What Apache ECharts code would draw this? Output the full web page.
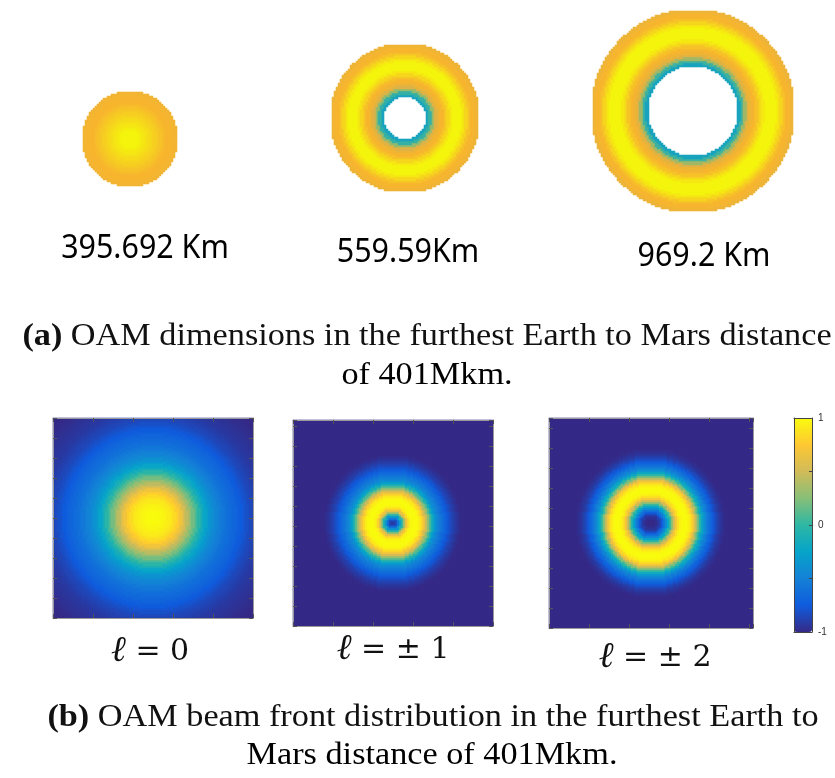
<!DOCTYPE html>
<html><head><meta charset="utf-8">
<script src="https://cdn.jsdelivr.net/npm/echarts@6/dist/echarts.min.js"></script>
<style>html,body{margin:0;padding:0;background:#fff}#c{width:835px;height:778px}</style>
</head><body><div id="c"></div>
<script>
// ---------------- DATA ----------------
const spotLabels = ['395.692 Km', '559.59Km', '969.2 Km'];
const beamSymbol = 'ℓ';
const beamLabels = [' = 0', ' = ± 1', ' = ± 2'];
const colorbarTicks = [-1, 0, 1];
const captionA = ['(a)', 'OAM dimensions in the furthest Earth to Mars distance', 'of 401Mkm.'];
const captionB = ['(b)', 'OAM beam front distribution in the furthest Earth to', 'Mars distance of 401Mkm.'];

// radial profiles (value per ring, centre outward); null = empty hole
// top row, normalised intensity 0..1
const spot395 = [1, 1, 1, 0.98, 0.96, 0.94, 0.92, 0.9, 0.88, 0.86, 0.84, 0.82, 0.8, 0.8, 0.79, 0.77];
const spot559 = [null, null, null, null, null, null, null, 0.04, 0.22, 0.45, 0.65, 0.76, 0.8, 0.84, 0.9, 0.96, 1, 1, 1, 0.96, 0.9, 0.84, 0.8, 0.79, 0.75];
const spot969 = [null, null, null, null, null, null, null, null, null, null, null, null, null, null, null,
  0.04, 0.24, 0.48, 0.66, 0.76, 0.8, 0.84, 0.9, 0.96, 1, 1, 1, 1, 0.96, 0.9, 0.84, 0.8, 0.79, 0.74];
// bottom row, colour scale -1..1
const beamL0 = [1, 1, 0.99, 0.97, 0.95, 0.92, 0.89, 0.84, 0.77, 0.67, 0.55, 0.44, 0.32, 0.2, 0.09, -0.02,
  -0.13, -0.23, -0.31, -0.37, -0.43, -0.48, -0.52, -0.56, -0.6, -0.63, -0.66, -0.69, -0.72, -0.75, -0.78,
  -0.81, -0.84, -0.86, -0.88, -0.9, -0.92, -0.93, -0.94, -0.95, -0.96, -0.97, -0.98, -0.99, -1];
const beamL1 = [-0.95, -0.85, -0.6, -0.35, -0.05, 0.3, 0.62, 0.82, 0.94, 0.99, 1, 1, 0.98, 0.92, 0.82, 0.68,
  0.5, 0.3, 0.1, -0.1, -0.27, -0.4, -0.48, -0.54, -0.6, -0.66, -0.72, -0.77, -0.82, -0.86, -0.9, -0.93,
  -0.96, -0.98, -1];
const beamL2 = [-1, -1, -0.98, -0.95, -0.88, -0.76, -0.6, -0.45, -0.25, -0.02, 0.25, 0.5, 0.7, 0.85, 0.94,
  0.99, 1, 1, 0.98, 0.92, 0.82, 0.66, 0.45, 0.22, 0.0, -0.2, -0.35, -0.47, -0.56, -0.64, -0.71, -0.78,
  -0.84, -0.89, -0.93, -0.96, -0.98, -1];

// ---------------- LAYOUT / STYLE ----------------
const topColors = ['#12a0c4', '#2eaeaa', '#7cbd78', '#d6b14c', '#f7b52f', '#f4f50c'];
const parula = ['#352a87', '#0f5cdd', '#1481d6', '#06a4ca', '#2eb7a4', '#87bf77', '#d1bb59', '#fec832', '#f9fb0e'];

const topPanels = [
  {profile: spot395, left: 83, top: 92, nx: 47, ny: 47, cell: 2, ring: 3},
  {profile: spot559, left: 332, top: 45, nx: 73, ny: 73, cell: 2, ring: 3},
  {profile: spot969, left: 593, top: 11, nx: 100, ny: 100, cell: 2, ring: 3}
];
const beamPanels = [
  {profile: beamL0, left: 53, top: 418, nx: 100, ny: 100, cell: 2, ring: 3},
  {profile: beamL1, left: 293, top: 420, nx: 100, ny: 103, cell: 2, ring: 2},
  {profile: beamL2, left: 549, top: 418, nx: 102, ny: 105, cell: 2, ring: 2}
];
const cbar = {left: 794, top: 418, width: 18, height: 214};

function cats(n) { return Array.from({length: n}, (_, i) => String(i)); }
function cells(p, clamp) {
  const out = [];
  const W = p.nx * p.cell, H = p.ny * p.cell;
  for (let i = 0; i < p.nx; i++) {
    for (let j = 0; j < p.ny; j++) {
      const dx = (i + 0.5) * p.cell - W / 2, dy = (j + 0.5) * p.cell - H / 2;
      let k = Math.floor(Math.sqrt(dx * dx + dy * dy) / p.ring);
      if (k >= p.profile.length) { if (!clamp) continue; k = p.profile.length - 1; }
      const v = p.profile[k];
      if (v === null) continue;
      out.push([i, j, v]);
    }
  }
  return out;
}

const grid = [], xAxis = [], yAxis = [], series = [];
topPanels.forEach((p, g) => {
  grid.push({left: p.left, top: p.top, width: p.nx * p.cell, height: p.ny * p.cell, containLabel: false, outerBoundsMode: 'none'});
  xAxis.push({type: 'category', gridIndex: g, data: cats(p.nx), show: false});
  yAxis.push({type: 'category', gridIndex: g, data: cats(p.ny), show: false});
  series.push({type: 'heatmap', xAxisIndex: xAxis.length - 1, yAxisIndex: yAxis.length - 1, data: cells(p, false),
    progressive: 0, silent: true, emphasis: {disabled: true}});
});
const frame = {show: true, lineStyle: {color: '#9a9a9a', width: 1}};
beamPanels.forEach((p, gi) => {
  const g = gi + 3;
  grid.push({left: p.left, top: p.top, width: p.nx * p.cell, height: p.ny * p.cell, containLabel: false, outerBoundsMode: 'none'});
  const xa = ['bottom', 'top'].map(pos => ({type: 'category', gridIndex: g, position: pos, data: cats(p.nx), z: 5,
    axisLine: frame, axisLabel: {show: false}, splitLine: {show: false},
    axisTick: {show: true, inside: true, interval: 19, length: 4, lineStyle: {color: '#555'}}}));
  const ya = ['left', 'right'].map(pos => ({type: 'category', gridIndex: g, position: pos, data: cats(p.ny), z: 5,
    axisLine: frame, axisLabel: {show: false}, splitLine: {show: false},
    axisTick: {show: true, inside: true, interval: 9, length: 4, lineStyle: {color: '#555'}}}));
  const xi = xAxis.length, yi = yAxis.length;
  xAxis.push(...xa); yAxis.push(...ya);
  series.push({type: 'heatmap', xAxisIndex: xi, yAxisIndex: yi, data: cells(p, true),
    progressive: 0, silent: true, emphasis: {disabled: true}});
});
// colour bar frame + ticks
grid.push({left: cbar.left, top: cbar.top, width: cbar.width, height: cbar.height, containLabel: false, outerBoundsMode: 'none'});
const cg = grid.length - 1;
const cbLine = {show: true, onZero: false, lineStyle: {color: '#444', width: 1}};
['bottom', 'top'].forEach(pos => xAxis.push({type: 'value', gridIndex: cg, position: pos, min: 0, max: 1, z: 10,
  axisLine: cbLine, axisTick: {show: false}, axisLabel: {show: false}, splitLine: {show: false}}));
yAxis.push({type: 'value', gridIndex: cg, position: 'left', min: -1, max: 1, z: 10,
  axisLine: cbLine, axisTick: {show: false}, axisLabel: {show: false}, splitLine: {show: false}});
yAxis.push({type: 'value', gridIndex: cg, position: 'right', min: -1, max: 1, interval: 0.5, z: 10,
  axisLine: cbLine, splitLine: {show: false},
  axisTick: {show: true, inside: true, length: 3, lineStyle: {color: '#444'}},
  axisLabel: {show: true, margin: 6, fontSize: 10, color: '#333', fontFamily: 'Liberation Sans',
    formatter: v => (colorbarTicks.indexOf(v) >= 0 ? String(v) : '')}});

const labelFont = '"Noto Sans", sans-serif';
const serif = '"Liberation Serif", serif';
function txt(x, y, s, size, family, extra) {
  return Object.assign({type: 'text', x: x, y: y, silent: true,
    style: {text: s, fontSize: size, fontFamily: family, fill: '#000', align: 'center', verticalAlign: 'middle',
      textAlign: 'center', textVerticalAlign: 'middle'}}, extra || {});
}
function caption(x, y, tag, s) {
  return {type: 'text', x: x, y: y, silent: true, scaleX: 1.07,
    style: {text: '{b|' + tag + '} ' + s, fontSize: 32, fontFamily: serif, fill: '#111', align: 'center', verticalAlign: 'middle',
      textAlign: 'center', textVerticalAlign: 'middle',
      rich: {b: {fontSize: 32, fontFamily: serif, fontWeight: 'bold', fill: '#111'}}}};
}
function beamLabel(x, y, s) {
  return {type: 'text', x: x, y: y, silent: true,
    style: {text: '{l|' + beamSymbol + '}' + s, fontSize: 30, fontFamily: '"DejaVu Serif", serif', fill: '#111',
      align: 'center', verticalAlign: 'middle', textAlign: 'center', textVerticalAlign: 'middle',
      rich: {l: {fontSize: 36, fontFamily: '"DejaVu Serif", serif', fontStyle: 'italic', fill: '#111'}}}};
}
const graphic = [
  txt(145, 249, spotLabels[0], 32, labelFont, {scaleX: 0.95}),
  txt(408, 253, spotLabels[1], 32, labelFont, {scaleX: 0.95}),
  txt(704, 257, spotLabels[2], 32, labelFont, {scaleX: 0.95}),
  caption(427, 337, captionA[0], captionA[1]),
  txt(427, 376, captionA[2], 32, serif, {scaleX: 1.07}),
  beamLabel(150, 652, beamLabels[0]),
  beamLabel(393, 650, beamLabels[1]),
  beamLabel(655, 658, beamLabels[2]),
  caption(433, 718, captionB[0], captionB[1]),
  txt(432, 756, captionB[2], 32, serif, {scaleX: 1.07})
];

const chart = echarts.init(document.getElementById('c'), null, {renderer: 'canvas'});
chart.setOption({
  backgroundColor: '#fff',
  animation: false,
  grid, xAxis, yAxis, series, graphic,
  visualMap: [
    {type: 'continuous', show: false, seriesIndex: [0, 1, 2], min: 0, max: 1, inRange: {color: topColors}},
    {type: 'continuous', show: true, seriesIndex: [3, 4, 5], min: -1, max: 1, inRange: {color: parula},
      left: cbar.left, top: cbar.top, itemWidth: cbar.width, itemHeight: cbar.height, padding: 0,
      calculable: false, hoverLink: false, text: null, showLabel: false, orient: 'vertical'}
  ]
});
</script></body></html>
